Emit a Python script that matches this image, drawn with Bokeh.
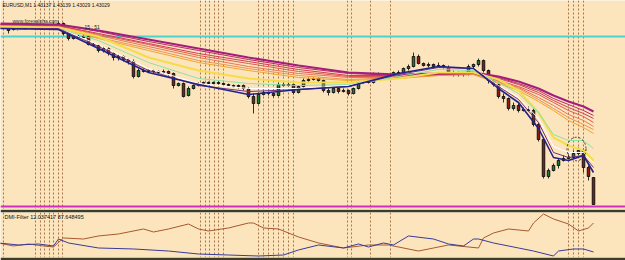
from bokeh.plotting import figure
from bokeh.layouts import column
from bokeh.models import Range1d, Label, ColumnDataSource
from bokeh.embed import file_html
from bokeh.resources import INLINE
import numpy as np

BG = "#FCE5BD"
DARK = "#3C3C2C"

# ---------------- data: EURUSD M1 candles (bar index 0..117) ----------------
bars = list(range(118))
open_ = [1.43741, 1.43729, 1.43737, 1.43741, 1.43737, 1.43741, 1.43737, 1.43741, 1.43745, 1.43741,
         1.43749, 1.43753, 1.43713, 1.43693, 1.43701, 1.43697, 1.43701, 1.43669, 1.43665, 1.43645,
         1.43653, 1.43633, 1.43617, 1.43621, 1.43609, 1.43601, 1.43541, 1.43565, 1.43561, 1.43565,
         1.43561, 1.43557, 1.43561, 1.43553, 1.43505, 1.43513, 1.43465, 1.43493, 1.43505, 1.43513,
         1.43517, 1.43513, 1.43517, 1.43513, 1.43509, 1.43505, 1.43501, 1.43505, 1.43493, 1.43461,
         1.43433, 1.43469, 1.43477, 1.43473, 1.43465, 1.43509, 1.43505, 1.43509, 1.43477, 1.43501,
         1.43525, 1.43529, 1.43533, 1.43525, 1.43485, 1.43477, 1.43493, 1.43481, 1.43485, 1.43473,
         1.43493, 1.43517, 1.43521, 1.43517, 1.43549, 1.43541, 1.43545, 1.43541, 1.43557, 1.43553,
         1.43573, 1.43581, 1.43621, 1.43593, 1.43585, 1.43589, 1.43581, 1.43585, 1.43577, 1.43557,
         1.43549, 1.43553, 1.43549, 1.43581, 1.43589, 1.43605, 1.43565, 1.43525, 1.43509, 1.43461,
         1.43453, 1.43413, 1.43425, 1.43405, 1.43409, 1.43405, 1.43349, 1.43289, 1.43141, 1.43165,
         1.43185, 1.43205, 1.43213, 1.43217, 1.43233, 1.43245, 1.43177, 1.43137]
close = [1.43725, 1.43737, 1.43741, 1.43737, 1.43741, 1.43737, 1.43741, 1.43745, 1.43741, 1.43749,
         1.43753, 1.43713, 1.43693, 1.43701, 1.43697, 1.43701, 1.43669, 1.43665, 1.43645, 1.43653,
         1.43633, 1.43617, 1.43621, 1.43609, 1.43601, 1.43541, 1.43565, 1.43561, 1.43565, 1.43561,
         1.43557, 1.43561, 1.43553, 1.43505, 1.43513, 1.43461, 1.43493, 1.43505, 1.43513, 1.43517,
         1.43513, 1.43517, 1.43513, 1.43509, 1.43505, 1.43501, 1.43505, 1.43493, 1.43461, 1.43433,
         1.43469, 1.43477, 1.43473, 1.43465, 1.43509, 1.43505, 1.43509, 1.43477, 1.43501, 1.43525,
         1.43529, 1.43533, 1.43525, 1.43485, 1.43477, 1.43493, 1.43481, 1.43485, 1.43473, 1.43493,
         1.43517, 1.43521, 1.43517, 1.43549, 1.43541, 1.43545, 1.43541, 1.43557, 1.43553, 1.43573,
         1.43581, 1.43621, 1.43593, 1.43585, 1.43589, 1.43581, 1.43585, 1.43577, 1.43557, 1.43549,
         1.43553, 1.43549, 1.43581, 1.43589, 1.43605, 1.43565, 1.43525, 1.43509, 1.43461, 1.43453,
         1.43413, 1.43425, 1.43405, 1.43409, 1.43405, 1.43349, 1.43289, 1.43141, 1.43165, 1.43185,
         1.43205, 1.43213, 1.43217, 1.43233, 1.43245, 1.43177, 1.43141, 1.43029]
high = [1.43749, 1.43745, 1.43745, 1.43749, 1.43745, 1.43745, 1.43749, 1.43753, 1.43749, 1.43757,
        1.43761, 1.43757, 1.43717, 1.43705, 1.43709, 1.43709, 1.43705, 1.43677, 1.43669, 1.43661,
        1.43657, 1.43637, 1.43629, 1.43625, 1.43613, 1.43609, 1.43573, 1.43573, 1.43569, 1.43569,
        1.43565, 1.43569, 1.43565, 1.43557, 1.43517, 1.43517, 1.43501, 1.43509, 1.43517, 1.43521,
        1.43521, 1.43521, 1.43521, 1.43517, 1.43513, 1.43509, 1.43509, 1.43509, 1.43497, 1.43473,
        1.43477, 1.43485, 1.43481, 1.43477, 1.43517, 1.43517, 1.43517, 1.43513, 1.43505, 1.43533,
        1.43537, 1.43537, 1.43537, 1.43529, 1.43493, 1.43501, 1.43497, 1.43493, 1.43489, 1.43497,
        1.43525, 1.43525, 1.43525, 1.43557, 1.43557, 1.43553, 1.43549, 1.43561, 1.43565, 1.43577,
        1.43589, 1.43637, 1.43629, 1.43597, 1.43597, 1.43593, 1.43597, 1.43589, 1.43585, 1.43565,
        1.43561, 1.43557, 1.43589, 1.43593, 1.43613, 1.43609, 1.43569, 1.43529, 1.43513, 1.43473,
        1.43457, 1.43437, 1.43433, 1.43417, 1.43421, 1.43413, 1.43357, 1.43297, 1.43173, 1.43193,
        1.43213, 1.43225, 1.43229, 1.43245, 1.43257, 1.43253, 1.43185, 1.43139]
low = [1.43713, 1.43725, 1.43733, 1.43733, 1.43733, 1.43733, 1.43733, 1.43737, 1.43737, 1.43737,
       1.43745, 1.43705, 1.43685, 1.43689, 1.43693, 1.43693, 1.43665, 1.43661, 1.43637, 1.43637,
       1.43625, 1.43605, 1.43605, 1.43601, 1.43589, 1.43533, 1.43537, 1.43557, 1.43557, 1.43553,
       1.43553, 1.43553, 1.43545, 1.43493, 1.43501, 1.43457, 1.43461, 1.43489, 1.43501, 1.43509,
       1.43509, 1.43509, 1.43509, 1.43505, 1.43501, 1.43497, 1.43493, 1.43485, 1.43453, 1.43393,
       1.43429, 1.43465, 1.43465, 1.43457, 1.43461, 1.43501, 1.43501, 1.43469, 1.43473, 1.43497,
       1.43517, 1.43525, 1.43517, 1.43477, 1.43465, 1.43473, 1.43473, 1.43477, 1.43465, 1.43469,
       1.43489, 1.43513, 1.43513, 1.43513, 1.43537, 1.43537, 1.43533, 1.43537, 1.43549, 1.43549,
       1.43565, 1.43577, 1.43589, 1.43581, 1.43577, 1.43577, 1.43577, 1.43573, 1.43549, 1.43541,
       1.43541, 1.43541, 1.43545, 1.43573, 1.43581, 1.43557, 1.43513, 1.43501, 1.43453, 1.43437,
       1.43405, 1.43405, 1.43397, 1.43401, 1.43401, 1.43341, 1.43281, 1.43133, 1.43133, 1.43161,
       1.43173, 1.43201, 1.43209, 1.43213, 1.43225, 1.43157, 1.43125, 1.43029]

# ---------------- moving-average ribbon, read at these bars ----------------
ma_bars = [-2, 10, 18, 28, 38, 48, 58, 68, 78, 86, 93, 98, 102, 106, 109, 112, 115, 117]
slow_1 = [1.43753, 1.43749, 1.43725, 1.43689, 1.43653, 1.43617, 1.43585, 1.43557, 1.43549, 1.43553, 1.43557, 1.43541, 1.43521, 1.43493, 1.43465, 1.43441, 1.43421, 1.43401]
slow_2 = [1.43749, 1.43749, 1.43721, 1.43681, 1.43645, 1.43609, 1.43577, 1.43553, 1.43545, 1.43553, 1.43557, 1.43537, 1.43513, 1.43485, 1.43453, 1.43429, 1.43405, 1.43385]
slow_3 = [1.43749, 1.43745, 1.43713, 1.43673, 1.43633, 1.43601, 1.43569, 1.43545, 1.43545, 1.43549, 1.43553, 1.43533, 1.43509, 1.43477, 1.43445, 1.43417, 1.43393, 1.43373]
slow_4 = [1.43745, 1.43745, 1.43709, 1.43669, 1.43625, 1.43593, 1.43561, 1.43541, 1.43541, 1.43549, 1.43553, 1.43525, 1.43501, 1.43469, 1.43437, 1.43405, 1.43381, 1.43357]
slow_5 = [1.43741, 1.43741, 1.43705, 1.43661, 1.43617, 1.43581, 1.43553, 1.43537, 1.43537, 1.43549, 1.43553, 1.43521, 1.43497, 1.43457, 1.43425, 1.43389, 1.43365, 1.43341]
slow_6 = [1.43741, 1.43741, 1.43697, 1.43653, 1.43605, 1.43573, 1.43545, 1.43529, 1.43537, 1.43545, 1.43549, 1.43517, 1.43493, 1.43449, 1.43413, 1.43377, 1.43349, 1.43329]
slow_7 = [1.43737, 1.43737, 1.43693, 1.43645, 1.43597, 1.43565, 1.43537, 1.43525, 1.43533, 1.43545, 1.43549, 1.43513, 1.43485, 1.43441, 1.43405, 1.43365, 1.43337, 1.43313]
fast_yellow = [1.43741, 1.43737, 1.43701, 1.43617, 1.43565, 1.43533, 1.43517, 1.43517, 1.43533, 1.43557, 1.43557, 1.43529, 1.43485, 1.43397, 1.43297, 1.43265, 1.43245, 1.43205]
fast_green = [1.43737, 1.43733, 1.43685, 1.43597, 1.43533, 1.43513, 1.43505, 1.43509, 1.43541, 1.43569, 1.43565, 1.43517, 1.43473, 1.43397, 1.43309, 1.43285, 1.43285, 1.43253]
fast_white = [1.43733, 1.43733, 1.43669, 1.43573, 1.43513, 1.43493, 1.43493, 1.43505, 1.43549, 1.43577, 1.43573, 1.43505, 1.43457, 1.43373, 1.43261, 1.43237, 1.43237, 1.43197]
fast_purple = [1.43733, 1.43733, 1.43661, 1.43565, 1.43505, 1.43481, 1.43489, 1.43501, 1.43549, 1.43577, 1.43573, 1.43501, 1.43449, 1.43357, 1.43237, 1.43217, 1.43225, 1.43177]
fast_navy = [1.43733, 1.43729, 1.43653, 1.43557, 1.43509, 1.43469, 1.43489, 1.43501, 1.43553, 1.43581, 1.43573, 1.43493, 1.43437, 1.43333, 1.43217, 1.43205, 1.43225, 1.43157]

# horizontal levels and circled zone
cyan_level = 1.43701
magenta_level = 1.43023
circle_bar = 113.6
circle_price = 1.43251

# vertical (period / event) dotted lines, at bar positions
vline_bars = [-1.1, 5.4, 6.3, 7.2, 8.1, 9.0, 9.9, 10.8,
              38.4, 39.3, 40.2, 41.1, 42.0, 42.9,
              50, 51, 52, 53, 54, 55, 56, 57,
              67.8, 68.6, 72.4, 76.4,
              112, 113, 114, 115]

# ---------------- DMI-Filter (lower window) ----------------
dmi_pos_bars = [-2, 1, 4, 7, 9, 11, 15, 18, 22, 27, 29, 32, 36, 38, 40, 44, 48, 49, 51, 54,
                58, 62, 67, 72, 76, 82, 85, 88, 94, 95, 97, 100, 104, 105, 107, 109, 112, 114, 116, 117]
dmi_pos = [35.5, 27.7, 32.9, 27.7, 25.1, 48.6, 45.9, 53.8, 59.0, 72.0, 64.2, 72.0, 85.0, 72.0, 66.8, 74.6, 87.6, 87.6, 74.6, 72.0,
           51.2, 35.5, 22.5, 30.3, 30.3, 14.6, 22.5, 30.3, 22.5, 48.6, 61.6, 72.0, 66.8, 87.6, 111.1, 98.1, 85.0, 66.8, 74.6, 87.648495]
dmi_neg_bars = [-2, 2, 6, 9, 10, 12, 18, 25, 32, 38, 44, 50, 55, 58, 62, 67, 70, 72, 75, 77,
                80, 85, 88, 91, 93, 94, 97, 102, 105, 109, 110, 113, 115, 117]
dmi_neg = [35.5, 30.3, 32.9, 27.7, 45.9, 35.5, 22.5, 19.9, 14.6, 6.8, 4.2, 1.6, 4.2, 17.3, 30.3, 22.5, 32.9, 25.1, 35.5, 30.3,
           53.8, 45.9, 32.9, 27.7, 45.9, 45.9, 35.5, 22.5, 14.6, 1.6, 14.6, 19.9, 19.9, 12.037417]

header_text = "EURUSD,M1  1.43137 1.43139 1.43029 1.43029"
dmi_text = "DMI-Filter 12.037417 87.648495"

# ---------------- figures ----------------
x_rng = Range1d(-1.6, 123.4)

main = figure(width=625, height=209, x_range=x_rng, y_range=Range1d(1.43009, 1.43845),
              output_backend="svg", toolbar_location=None, x_axis_type=None, y_axis_type=None,
              min_border=0, background_fill_color=BG, border_fill_color=BG, outline_line_color=None)

VCOL = "#A87448"
main.vspan(x=vline_bars, line_color=VCOL, line_width=1, line_dash="2 2")
main.hspan(y=[cyan_level], line_color="#4CD3CF", line_width=2)
main.hspan(y=[magenta_level], line_color="#D22CC0", line_width=2)

o = np.array(open_); c = np.array(close)
src = ColumnDataSource(dict(
    x=bars, high=high, low=low,
    top=np.maximum(o, c), bottom=np.minimum(o, c),
    color=np.where(c >= o, "#1F7A32", "#8E1A12"),
))
main.segment(x0="x", y0="high", x1="x", y1="low", source=src, line_color="#303030", line_width=1)
main.vbar(x="x", width=0.5, top="top", bottom="bottom", fill_color="color", line_color="#151515",
          line_width=1, source=src)

slow_cols = ["#A21E7E", "#BE2A64", "#D03C56", "#DC5A52", "#E47856", "#EC9252", "#F0A42C"]
slow_all = [slow_1, slow_2, slow_3, slow_4, slow_5, slow_6, slow_7]
for k in range(6, -1, -1):
    main.line(ma_bars, slow_all[k], line_color=slow_cols[k], line_width=2 if k == 0 else 1)

main.line(ma_bars, fast_yellow, line_color="#F4DC4A", line_width=2)
main.line(ma_bars, fast_green, line_color="#8EE0A4", line_width=1)
main.line(ma_bars, fast_white, line_color="#FFFFFF", line_width=1)
main.line(ma_bars, fast_purple, line_color="#74327E", line_width=1)
main.line(ma_bars, fast_navy, line_color="#22228A", line_width=1.6)

main.ellipse(x=[circle_bar], y=[circle_price], width=3.8, height=0.00094, fill_color=None,
             line_color="#303030", line_width=1, line_dash="2 2")

main.add_layout(Label(x=2, y=208, x_units="screen", y_units="screen", text=header_text,
                      text_font="Liberation Sans", text_font_size="5px", text_color="#101010",
                      text_baseline="top"))
main.add_layout(Label(x=12, y=192, x_units="screen", y_units="screen", text="www.forexalpha.com",
                      text_font="Liberation Sans", text_font_size="5px", text_color="#303030",
                      text_baseline="top"))
main.add_layout(Label(x=12, y=185, x_units="screen", y_units="screen", text="Bipolar Trend",
                      text_font="Liberation Sans", text_font_size="5px", text_color="#303030",
                      text_baseline="top", level="underlay"))
main.add_layout(Label(x=84, y=186, x_units="screen", y_units="screen", text="15 : 51",
                      text_font="Liberation Sans", text_font_size="5px", text_color="#202020",
                      text_baseline="top"))

lower = figure(width=625, height=51, x_range=x_rng, y_range=Range1d(-2.3, 115.0),
               output_backend="svg", toolbar_location=None, x_axis_type=None, y_axis_type=None,
               min_border_left=0, min_border_right=0, min_border_top=3, min_border_bottom=3,
               background_fill_color=BG, border_fill_color=DARK, outline_line_color=None)
lower.vspan(x=vline_bars, line_color=VCOL, line_width=1, line_dash="2 2")
lower.line(dmi_pos_bars, dmi_pos, line_color="#A8582E", line_width=1)
lower.line(dmi_neg_bars, dmi_neg, line_color="#3A3A9A", line_width=1)
lower.add_layout(Label(x=4, y=44, x_units="screen", y_units="screen", text=dmi_text,
                       text_font="Liberation Sans", text_font_size="5.5px", text_color="#101010",
                       text_baseline="top"))

layout = column(main, lower, spacing=0)
open("out.html", "w").write(file_html(layout, INLINE))
